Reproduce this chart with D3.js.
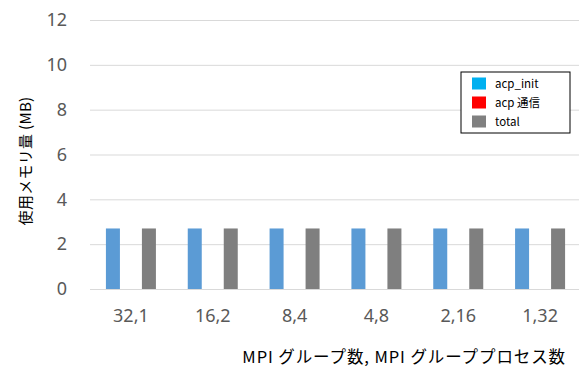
<!DOCTYPE html>
<html>
<head>
<meta charset="utf-8">
<script src="https://cdn.jsdelivr.net/npm/d3@7"></script>
<style>
  html, body { margin: 0; padding: 0; background: #fff; }
  svg { display: block; }
</style>
</head>
<body>
<script>
// Memory use per MPI configuration (groups, processes per group)
const categories = ["32,1", "16,2", "8,4", "4,8", "2,16", "1,32"];
const seriesNames = ["acp_init", "acp 通信", "total"];
const acpInit = [2.7, 2.7, 2.7, 2.7, 2.7, 2.7];
const acpComm = [0, 0, 0, 0, 0, 0];
const total = [2.7, 2.7, 2.7, 2.7, 2.7, 2.7];
const yTicks = [0, 2, 4, 6, 8, 10, 12];

const barColors = ["#5B9BD5", "#FF0000", "#7F7F7F"];
const legendColors = ["#00B0F0", "#FF0000", "#808080"];

const W = 579, H = 367;
const svg = d3.select("body").append("svg").attr("width", W).attr("height", H);

const plot = { left: 90, right: 581, top: 20, bottom: 289 };

const x = d3.scaleBand().domain(categories).range([plot.left, plot.right]).paddingInner(0).paddingOuter(0);
const sub = d3.scaleBand().domain(seriesNames).range([x.bandwidth() / 2 - 27, x.bandwidth() / 2 + 27]).paddingInner(4 / 18).paddingOuter(0.5 * 4 / 18);
const y = d3.scaleLinear().domain([0, 12]).range([plot.bottom, plot.top]);

const font = "'Noto Sans CJK JP', 'Noto Sans', sans-serif";
const numFont = "'Noto Sans', 'Open Sans', sans-serif";

// horizontal gridlines
const yAxis = d3.axisLeft(y).tickValues(yTicks).tickSize(-(plot.right - plot.left)).tickPadding(23);
const gy = svg.append("g").attr("transform", `translate(${plot.left},0)`).call(yAxis);
gy.select(".domain").remove();
gy.selectAll(".tick line").attr("stroke", "#D9D9D9").attr("stroke-width", 1);
gy.selectAll(".tick text").attr("fill", "#595959").attr("font-size", 18).attr("font-family", numFont);

// x category labels
const xAxis = d3.axisBottom(x).tickSize(0).tickPadding(20);
const gx = svg.append("g").attr("transform", `translate(0,${plot.bottom})`).call(xAxis);
gx.select(".domain").remove();
gx.selectAll(".tick text").attr("fill", "#595959").attr("font-size", 18).attr("font-family", numFont);

// grouped bars
const rows = categories.map((c, i) => ({ cat: c, vals: [acpInit[i], acpComm[i], total[i]] }));
const groups = svg.append("g").selectAll("g").data(rows).join("g")
  .attr("transform", d => `translate(${x(d.cat)},0)`);
groups.selectAll("rect").data(d => d.vals.map((v, k) => ({ v, k })))
  .join("rect")
  .attr("x", d => sub(seriesNames[d.k]))
  .attr("width", sub.bandwidth())
  .attr("y", d => y(d.v))
  .attr("height", d => y(0) - y(d.v))
  .attr("fill", d => barColors[d.k]);

// axis titles
svg.append("text")
  .attr("transform", "translate(31,161) rotate(-90)")
  .attr("text-anchor", "middle")
  .attr("font-size", 15)
  .attr("letter-spacing", 0.3)
  .attr("font-family", font)
  .attr("fill", "#000")
  .text("使用メモリ量 (MB)");

svg.append("text")
  .attr("x", 566).attr("y", 363)
  .attr("text-anchor", "end")
  .attr("font-size", 16.5)
  .attr("letter-spacing", 0.9)
  .attr("font-family", font)
  .attr("fill", "#000")
  .text("MPI グループ数, MPI グループプロセス数");

// legend
const lg = svg.append("g").attr("transform", "translate(461,72)");
lg.append("rect").attr("width", 109).attr("height", 61)
  .attr("fill", "#fff").attr("stroke", "#000").attr("stroke-width", 1);
const items = lg.selectAll("g.item").data(seriesNames).join("g")
  .attr("class", "item")
  .attr("transform", (d, i) => `translate(11,${5.5 + i * 19})`);
items.append("rect").attr("width", 14).attr("height", 12).attr("fill", (d, i) => legendColors[i]);
items.append("text").attr("x", 23).attr("y", 10.5)
  .attr("font-size", 11.5).attr("font-family", font).attr("fill", "#000")
  .text(d => d);
</script>
</body>
</html>
